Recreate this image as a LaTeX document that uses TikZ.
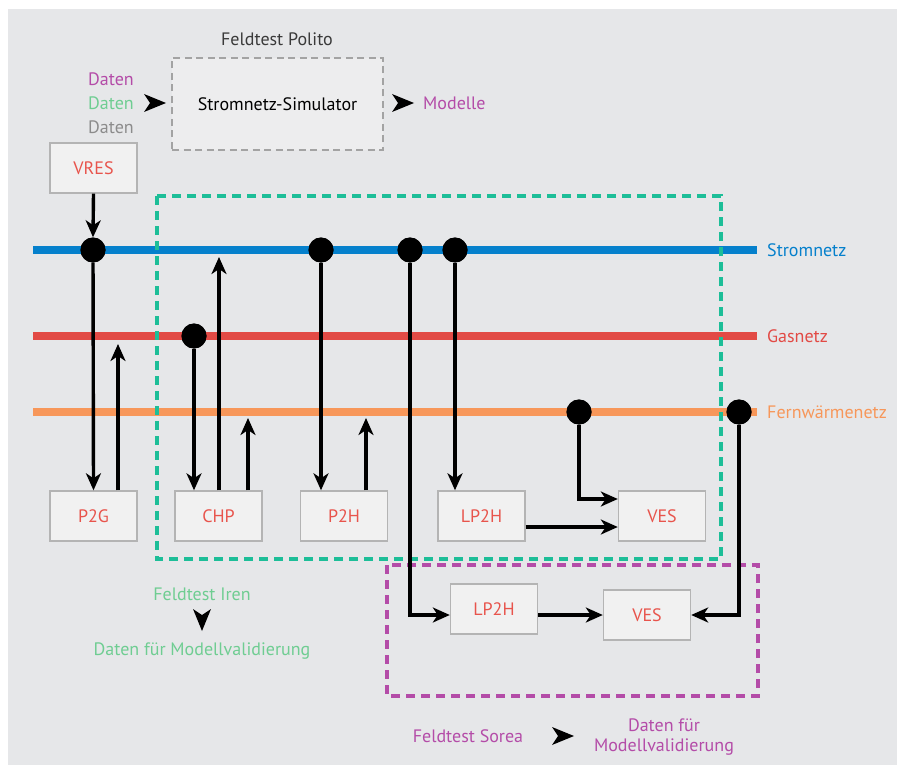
\documentclass[tikz,border=0pt]{standalone}
\usepackage{fontspec}
\setmainfont{PT Sans}
\usetikzlibrary{arrows.meta,calc}
\definecolor{bg}{HTML}{E6E7E9}
\definecolor{boxfill}{HTML}{F1F1F1}
\definecolor{boxline}{HTML}{B4B4B4}
\definecolor{boxtext}{HTML}{E8544C}
\definecolor{strom}{HTML}{0580CC}
\definecolor{gas}{HTML}{E24A45}
\definecolor{fern}{HTML}{F7975A}
\definecolor{irenc}{HTML}{1DBE98}
\definecolor{irent}{HTML}{6FCD92}
\definecolor{sorea}{HTML}{B44CA8}
\definecolor{daten}{HTML}{8C8C8C}
\definecolor{dark}{HTML}{3A3A3A}
\tikzset{
  box/.style={draw=boxline,line width=1.4pt,fill=boxfill,text=boxtext,minimum width=87pt,minimum height=50pt,inner sep=0pt,font=\fontsize{18}{21}\selectfont},
  dot/.style={circle,fill=black,inner sep=0pt,minimum size=25pt},
  netz/.style={line width=8pt},
  conn/.style={line width=3.4pt,-{Stealth[length=17pt,width=15pt,inset=5pt]}},
  lbl/.style={font=\fontsize{18}{21}\selectfont,inner sep=0pt},
  hd/.pic={\fill (-11,-9) -- (11,0) -- (-11,9) -- (-5,0) -- cycle;}
}
\begin{document}
\begin{tikzpicture}[x=1pt,y=-1pt]
\useasboundingbox (0,0) rectangle (897,765);
\fill[white] (0,0) rectangle (897,765);
\fill[bg] (8,9) rectangle (897,765);

% Polito block
\node[lbl,text=dark] (polito) at (277,39) {Feldtest Polito};
\node[draw=daten!80,dashed,dash pattern=on 7pt off 4.5pt,line width=1.4pt,fill=boxfill!60!bg,minimum width=211pt,minimum height=92pt,lbl,text=black] (sim) at (277.5,104) {Stromnetz-Simulator};
\node[lbl,text=sorea,anchor=east] (d1t) at (134,79) {Daten};
\node[lbl,text=irent,anchor=east] (d2t) at (134,103) {Daten};
\node[lbl,text=daten,anchor=east] (d3t) at (134,127) {Daten};
\pic at (155,103) {hd};
\pic at (403,103) {hd};
\node[lbl,text=sorea,anchor=west] (mod) at (423,103) {Modelle};

% nets
\coordinate (sL) at (33,250); \coordinate (sR) at (757,250);
\coordinate (gL) at (33,336); \coordinate (gR) at (757,336);
\coordinate (fL) at (33,412); \coordinate (fR) at (757,412);
\draw[netz,strom] (sL) -- (sR);
\draw[netz,gas] (gL) -- (gR);
\draw[netz,fern] (fL) -- (fR);
\node[lbl,text=strom,anchor=west] (slab) at (767,250) {Stromnetz};
\node[lbl,text=gas,anchor=west] (glab) at (767,336) {Gasnetz};
\node[lbl,text=fern,anchor=west] (flab) at (767,412) {Fernwärmenetz};

% field test frames
\draw[irenc,line width=3.4pt,dash pattern=on 9pt off 6pt] (157,196) rectangle (721,559);
\draw[sorea,line width=3.4pt,dash pattern=on 9pt off 6pt] (387,565) rectangle (758,696);

% boxes
\node[box] (vres) at (93.5,168) {VRES};
\node[box] (p2g) at (93.5,516) {P2G};
\node[box] (chp) at (218.5,516) {CHP};
\node[box] (p2h) at (344,516) {P2H};
\node[box] (lp2ha) at (481.5,516) {LP2H};
\node[box] (ves1) at (662,516) {VES};
\node[box] (lp2hb) at (494,609) {LP2H};
\node[box] (ves2) at (647,615) {VES};

% dots
\node[dot] (sd1) at (93,250) {};
\node[dot] (sd2) at (321,250) {};
\node[dot] (sd3) at (410,250) {};
\node[dot] (sd4) at (455,250) {};
\node[dot] (gd1) at (194,336) {};
\node[dot] (fd1) at (579,412) {};
\node[dot] (fd2) at (739,412) {};

% free ends of upward arrows
\coordinate (u1) at (118,344);
\coordinate (u2) at (219,257);
\coordinate (u3) at (248,418);
\coordinate (u4) at (366,418);

% connectors
\draw[conn] (vres.south) -- (sd1.north);
\draw[conn] (sd1) -- (p2g.north);
\draw[conn] (p2g.north -| u1) -- (u1);
\draw[conn] (gd1) -- (chp.north -| gd1);
\draw[conn] (chp.north -| u2) -- (u2);
\draw[conn] (chp.north -| u3) -- (u3);
\draw[conn] (sd2) -- (p2h.north -| sd2);
\draw[conn] (p2h.north -| u4) -- (u4);
\draw[conn] (sd4) -- (lp2ha.north -| sd4);
\draw[conn] (fd1) |- ($(ves1.west)+(0,-17)$);
\draw[conn] ($(lp2ha.east)+(0,11)$) -- ($(ves1.west)+(0,11)$);
\draw[conn] (sd3) |- (lp2hb.west |- ves2);
\draw[conn] (lp2hb.east |- ves2) -- (ves2.west);
\draw[conn] (fd2) |- (ves2.east);

% redraw dots on top
\foreach \d in {sd1,sd2,sd3,sd4,gd1,fd1,fd2} \fill (\d) circle (12.5pt);

% Iren legend
\node[lbl,text=irent] (iren) at (202,594) {Feldtest Iren};
\pic[rotate=-90] at (202,620) {hd};
\node[lbl,text=irent] (irenv) at (202,651) {Daten für Modellvalidierung};

% Sorea legend
\node[lbl,text=sorea] (sor) at (468,736) {Feldtest Sorea};
\pic at (563,736) {hd};
\node[lbl,text=sorea,align=center,font=\fontsize{18}{20}\selectfont] (sorv) at (664,737) {Daten für\\Modellvalidierung};
\end{tikzpicture}
\end{document}
